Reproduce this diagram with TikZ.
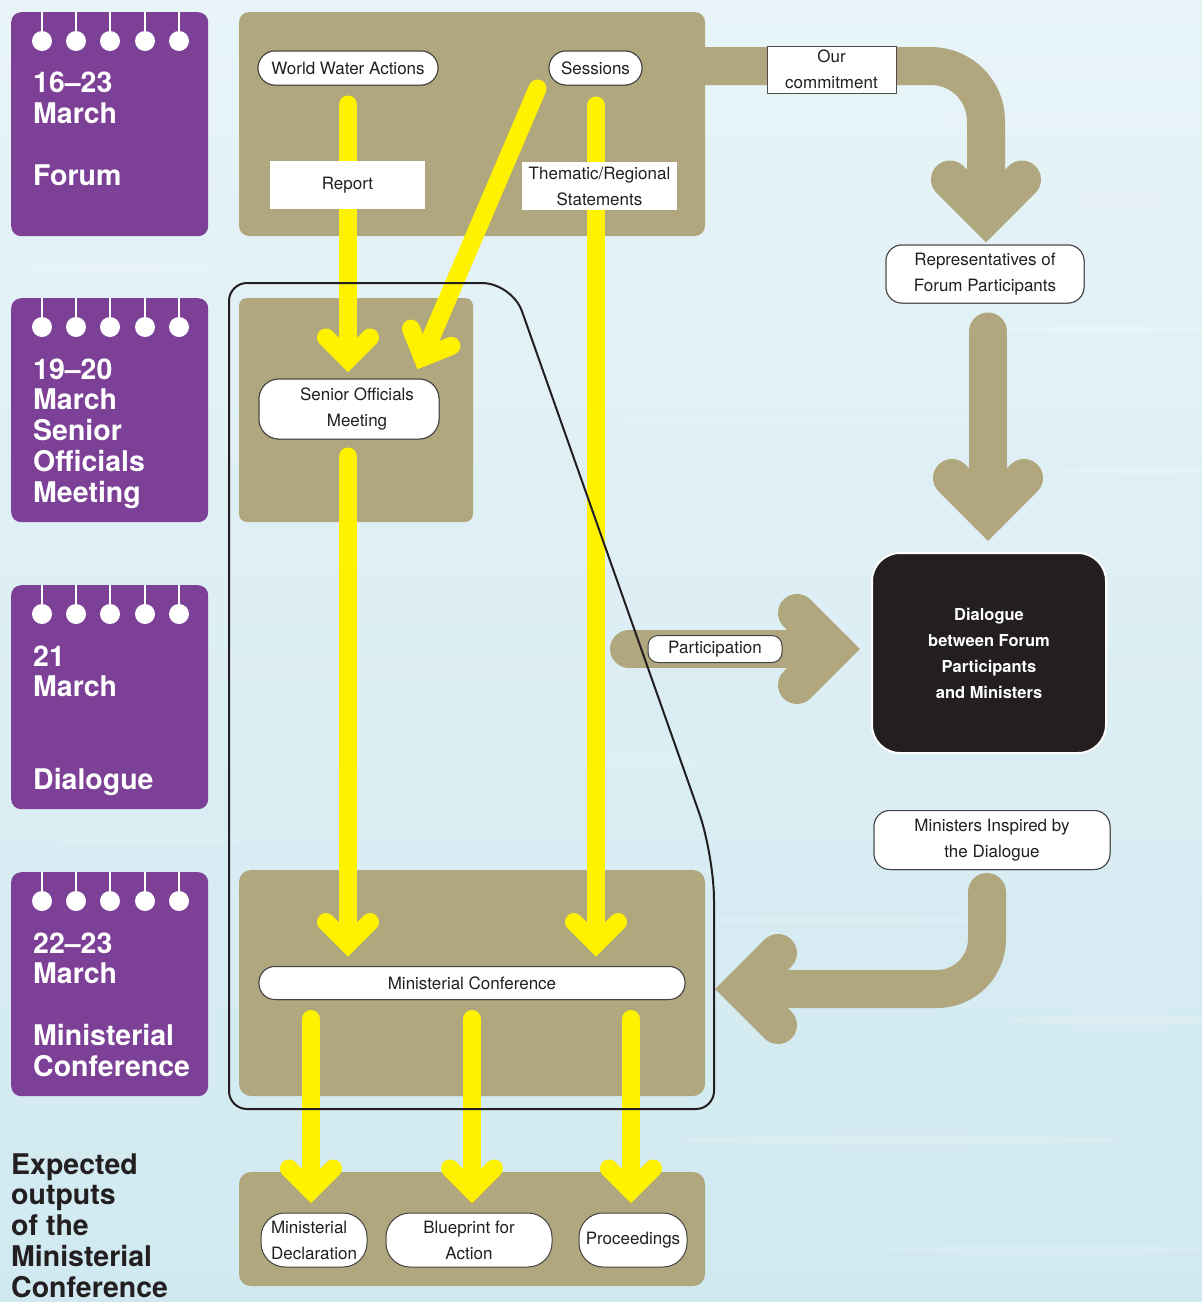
\documentclass[tikz,border=0pt]{standalone}
\usepackage{fontspec}
\setmainfont{TeX Gyre Heros}
\usetikzlibrary{calc,decorations.markings}
\definecolor{purp}{RGB}{124,64,150}
\definecolor{tanc}{RGB}{177,167,127}
\definecolor{yel}{RGB}{255,242,0}
\definecolor{ink}{RGB}{35,31,32}
\definecolor{bgA}{RGB}{232,244,248}
\definecolor{bgB}{RGB}{208,233,240}
\tikzset{
  yarr/.style={draw=yel, line width=18pt, line cap=round,
    postaction={decorate, decoration={markings, mark=at position 1 with {\draw[yel, sharp corners, line width=18pt, line cap=round, line join=miter] (-22,22) -- (0,0) -- (-22,-22);}}}},
  tarr/.style={draw=tanc, line width=38pt, line cap=round,
    postaction={decorate, decoration={markings, mark=at position 1 with {\draw[tanc, sharp corners, line width=38pt, line cap=round, line join=miter] (-36,36) -- (0,0) -- (-36,-36);}}}},
  panel/.style={fill=tanc, inner sep=0pt, rounded corners=10pt},
  box/.style={draw=ink!85, line width=1pt, fill=white, text=ink, font=\fontsize{17}{26}\selectfont, align=center, inner sep=0pt},
  lab/.style={fill=white, text=ink, font=\fontsize{17}{26}\selectfont, align=center, inner sep=0pt},
  caltext/.style={anchor=base west, align=left, text=white, font=\fontsize{28.5}{30.7}\selectfont\bfseries, inner sep=0pt},
  outl/.style={draw=ink, line width=2pt, line cap=round},
}
\newcommand\calbox[2]{%
  \node[fill=purp, rounded corners=10pt, minimum width=197pt, minimum height=224pt, inner sep=0pt, anchor=north west] (#1) at (11,#2) {};
  \foreach \rx in {42,76,110,145,179} {
    \draw[white, line width=2pt] (\rx,#2) -- (\rx,#2+29);
    \fill[white] (\rx,#2+29) circle[radius=10pt];
  }%
}
\begin{document}
\begin{tikzpicture}[x=1pt,y=-1pt]
\useasboundingbox (0,0) rectangle (1202,1302);
% background
\shade[top color=bgA, bottom color=bgB] (0,0) rectangle (1202,1302);
\foreach \cx/\cy/\rx/\ry in {1080/120/160/6, 1120/200/110/4, 800/420/180/5, 1150/470/90/4, 640/760/160/5, 840/920/140/4, 1120/1020/110/5, 900/1140/220/5, 1050/1250/170/5, 120/270/120/4, 130/560/110/4, 150/840/100/4, 1100/330/140/4}
  \fill[white, opacity=0.15] (\cx,\cy) ellipse [x radius=\rx, y radius=\ry];

% calendar boxes
\calbox{c1}{12}
\calbox{c2}{298}
\calbox{c3}{585}
\calbox{c4}{872}
\node[caltext] (t1) at (33,185) {16–23\\March\\[30.7pt]Forum};
\node[caltext] (t2) at (33,502) {19–20\\March\\Senior\\Officials\\Meeting};
\node[caltext] (t3) at (33,789) {21\\March\\[61.4pt]Dialogue};
\node[caltext] (t4) at (33,1076) {22–23\\March\\[30.7pt]Ministerial\\Conference};
\node[caltext, text=ink] (t5) at (11,1297) {Expected\\outputs\\of the\\Ministerial\\Conference};

% tan panels
\node[panel, minimum width=466pt, minimum height=224pt] (p1) at (472,124) {};
\node[panel, minimum width=234pt, minimum height=224pt, rounded corners=8pt] (p2) at (356,410) {};
\node[panel, minimum width=466pt, minimum height=226pt, rounded corners=12pt] (p3) at (472,983) {};
\node[panel, minimum width=466pt, minimum height=114pt, rounded corners=12pt] (p4) at (472,1229) {};

% node boxes
\path
  (348,68) node[box, minimum width=180pt, minimum height=34pt, rounded corners=17pt] (wwa) {World Water Actions}
  (595.5,68) node[box, minimum width=93pt, minimum height=34pt, rounded corners=17pt] (sess) {Sessions}
  (349,409) node[box, minimum width=180pt, minimum height=60pt, rounded corners=20pt] (som) {\hspace*{16pt}Senior Officials\\\hspace*{16pt}Meeting}
  (472,983) node[box, minimum width=426pt, minimum height=33pt, rounded corners=16pt] (mc) {Ministerial Conference}
  (985,274) node[box, minimum width=198pt, minimum height=58pt, rounded corners=16pt] (reps) {Representatives of\\Forum Participants}
  (992,840) node[box, minimum width=236pt, minimum height=59pt, rounded corners=16pt] (mins) {Ministers Inspired by\\the Dialogue}
  (989,653) node[draw=white, line width=2pt, fill=ink, rounded corners=28pt, minimum width=234pt, minimum height=200pt, text=white, font=\bfseries\fontsize{16.5}{26}\selectfont, align=center] (dlg) {Dialogue\\between Forum\\Participants\\and Ministers}
  (314,1240) node[box, minimum width=106pt, minimum height=54pt, rounded corners=24pt, align=left] (decl) {Ministerial\\Declaration}
  (469,1240) node[box, minimum width=166pt, minimum height=54pt, rounded corners=24pt] (blue) {Blueprint for\\Action}
  (633,1240) node[box, minimum width=108pt, minimum height=54pt, rounded corners=24pt] (proc) {Proceedings};

% tan arrows
\coordinate (cstart) at (700,66);
\coordinate (cbend) at (986,66);
\draw[tarr, line cap=butt, rounded corners=55pt] (cstart) -- (cbend) -- ($(reps.north)+(1,-29)$);
\draw[tarr] ($(reps.south)+(3,28)$) -- ($(dlg.north)+(-1,-38)$);
\coordinate (pstart) at (629,649);
\draw[tarr] (pstart) -- ($(dlg.west)+(-38,-4)$);
\coordinate (mbend) at (987,989);
\coordinate (mend) at (742,989);
\draw[tarr, rounded corners=50pt] ($(mins.south)+(-5,22)$) -- (mbend) -- (mend);

% yellow arrows
\draw[yarr] ($(wwa.south)+(0,19)$) -- ($(som.north -| wwa.south)+(0,-19)$);
\draw[yarr] ($(sess.south west)+(-11,3)$) -- ($(som.north east)+(-17,-21)$);
\draw[yarr] ($(sess.south)+(0.5,20)$) -- ($(mc.north -| sess.south)+(0.5,-22)$);
\draw[yarr] ($(som.south)+(-1,17)$) -- ($(mc.north -| som.south)+(-1,-22)$);
\draw[yarr] ($(mc.south -| decl.north)+(-3,19)$) -- ($(decl.north)+(-3,-22)$);
\draw[yarr] ($(mc.south -| blue.north)+(3,19)$) -- ($(blue.north)+(3,-22)$);
\draw[yarr] ($(mc.south -| proc.north)+(-2,19)$) -- ($(proc.north)+(-2,-22)$);

% labels over connectors
\node[lab, minimum width=155pt, minimum height=48pt] (rep) at (347.5,185) {Report};
\node[lab, minimum width=155pt, minimum height=48pt] (them) at (599.5,186) {Thematic/Regional\\Statements};
\node[lab, draw=ink!80, line width=1pt, minimum width=129pt, minimum height=47pt] (ourc) at (831.5,69.5) {Our\\commitment};
\node[box, minimum width=134pt, minimum height=27pt, rounded corners=10pt] (part) at (715,649) {Participation};

% outline of the conference area
\draw[outl, rounded corners=18pt] (229,700) -- (229,283) -- (370,283);
\draw[outl, rounded corners=30pt] (370,283) -- (512,283) -- (613,569);
\draw[outl, rounded corners=45pt] (613,569) -- (714,855) -- (714,980);
\draw[outl, rounded corners=18pt] (714,980) -- (714,1109) -- (470,1109);
\draw[outl, rounded corners=18pt] (470,1109) -- (229,1109) -- (229,700);

% redraw boxes on top
\path
  (348,68) node[box, minimum width=180pt, minimum height=34pt, rounded corners=17pt] {World Water Actions}
  (595.5,68) node[box, minimum width=93pt, minimum height=34pt, rounded corners=17pt] {Sessions}
  (349,409) node[box, minimum width=180pt, minimum height=60pt, rounded corners=20pt] {\hspace*{16pt}Senior Officials\\\hspace*{16pt}Meeting}
  (472,983) node[box, minimum width=426pt, minimum height=33pt, rounded corners=16pt] {Ministerial Conference}
  (985,274) node[box, minimum width=198pt, minimum height=58pt, rounded corners=16pt] {Representatives of\\Forum Participants}
  (992,840) node[box, minimum width=236pt, minimum height=59pt, rounded corners=16pt] {Ministers Inspired by\\the Dialogue};
\end{tikzpicture}
\end{document}
